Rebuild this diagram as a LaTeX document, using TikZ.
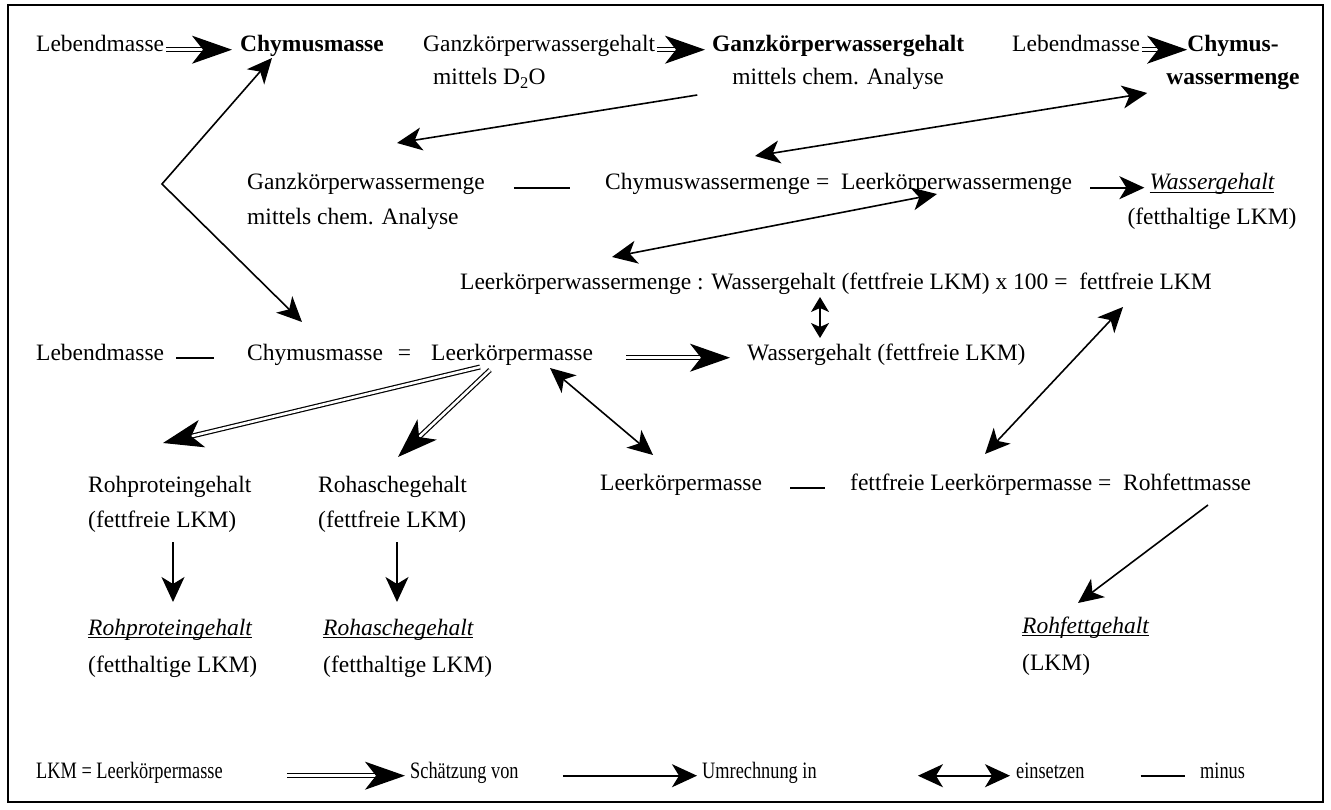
\documentclass[tikz,border=0pt]{standalone}
\usepackage{fontspec}
\setmainfont{Liberation Serif}
\newfontfamily\keyfont{Liberation Serif}[FakeStretch=0.78]
\usetikzlibrary{arrows.meta}

% underlined italic word, line drawn through the descenders
\newcommand{\ulit}[1]{\setbox0\hbox{\itshape #1}\rlap{\rule[-3pt]{\wd0}{1.4pt}}\box0}

\begin{document}
\begin{tikzpicture}[x=1pt,y=-1pt,
  txt/.style={anchor=base west,inner sep=0pt,font=\fontsize{23.5pt}{35pt}\selectfont},
  keytxt/.style={txt,font=\fontsize{23.5pt}{35pt}\keyfont},
  est/.style={double,double distance=2.6pt,line width=1.2pt,-{Stealth[length=40pt,width=28pt,inset=11pt]}},
  conv/.style={line width=1.6pt,-{Stealth[length=25pt,width=23pt,inset=7pt]}},
  subst/.style={line width=1.6pt,{Stealth[length=25pt,width=23pt,inset=7pt]}-{Stealth[length=25pt,width=23pt,inset=7pt]}},
  substsmall/.style={line width=1.6pt,{Stealth[length=15pt,width=18pt,inset=4pt]}-{Stealth[length=15pt,width=18pt,inset=4pt]}},
  minus/.style={line width=1.6pt}]
\useasboundingbox (0,0) rectangle (1331,810);
\draw[line width=1.8pt] (8,5) rectangle (1323,802);

% first row
\node[txt] (leb1) at (36,52) {Lebendmasse};
\node[txt] (chym1) at (240,52) {\textbf{Chymusmasse}};
\node[txt] (gkwg1) at (423,52) {Ganzkörperwassergehalt};
\node[txt] (d2o) at ([shift={(10,33)}]gkwg1.base west) {mittels D\textsubscript{2}O};
\node[txt] (gkwg2) at (712,52) {\textbf{Ganzkörperwassergehalt}};
\node[txt,anchor=base] (chem1) at ([shift={(0,33)}]gkwg2.base) {mittels chem. Analyse};
\node[txt] (leb2) at (1012,52) {Lebendmasse};
\node[txt,anchor=base] (chymw1) at (1233,52) {\textbf{Chymus-}};
\node[txt,anchor=base] (chymw2) at ([shift={(0,33)}]chymw1.base) {\textbf{wassermenge}};

% second row
\node[txt] (gkwm) at (247,190) {Ganzkörperwassermenge};
\node[txt] (chem2) at ([shift={(0,35)}]gkwm.base west) {mittels chem. Analyse};
\node[txt] (cwm) at (605,190) {Chymuswassermenge =\ \ Leerkörperwassermenge};
\node[txt,anchor=base] (wg1) at (1212,190) {\ulit{Wassergehalt}};
\node[txt,anchor=base] (fh1) at ([shift={(0,35)}]wg1.base) {(fetthaltige LKM)};

\node[txt] (lkwm) at (460,290) {Leerkörperwassermenge : Wassergehalt (fettfreie LKM) x 100 =\ \ fettfreie LKM};

\node[txt] (leb3) at (36,360) {Lebendmasse};
\node[txt] (lkm1) at (247,360) {Chymusmasse\hspace{15pt}=\hspace{20pt}Leerkörpermasse};
\node[txt] (wgff) at (747,360) {Wassergehalt (fettfreie LKM)};

\node[txt] (rpg1) at (88,492) {Rohproteingehalt};
\node[txt] (rpg1b) at ([shift={(0,35)}]rpg1.base west) {(fettfreie LKM)};
\node[txt] (rag1) at (318,492) {Rohaschegehalt};
\node[txt] (rag1b) at ([shift={(0,35)}]rag1.base west) {(fettfreie LKM)};
\node[txt] (lkm2) at (600,490) {Leerkörpermasse};
\node[txt] (fflkm) at (850,490) {fettfreie Leerkörpermasse =\ \ Rohfettmasse};

\node[txt] (rpg2) at (88,635) {\ulit{Rohproteingehalt}};
\node[txt] (rpg2b) at ([shift={(0,37)}]rpg2.base west) {(fetthaltige LKM)};
\node[txt] (rag2) at (323,635) {\ulit{Rohaschegehalt}};
\node[txt] (rag2b) at ([shift={(0,37)}]rag2.base west) {(fetthaltige LKM)};
\node[txt] (rfg) at (1022,633) {\ulit{Rohfettgehalt}};
\node[txt] (rfgb) at ([shift={(0,37)}]rfg.base west) {(LKM)};

% key
\node[keytxt] (key) at (36,778) {LKM = Leerkörpermasse};
\node[keytxt] (keyest) at (410,778) {Schätzung von};
\node[keytxt] (keyconv) at (702,778) {Umrechnung in};
\node[keytxt] (keysubst) at (1016,778) {einsetzen};
\node[keytxt] (keyminus) at (1200,778) {minus};

\coordinate (vbend) at (162,184);

% connectors
\draw[est,shorten <=2pt,shorten >=8pt] (leb1.mid east) -- (chym1.mid west);
\draw[est,shorten <=2pt,shorten >=7pt] (gkwg1.mid east) -- (gkwg2.mid west);
\draw[est,shorten <=2pt] (leb2.mid east) -- (chymw1.mid west);
\draw[subst] ([shift={(32,6)}]chym1.base west) -- (vbend) -- ([shift={(55,-38)}]lkm1.base west);
\draw[conv] ([shift={(-35,10)}]chem1.base west) -- ([shift={(150,-47)}]gkwm.base west);
\draw[subst] ([shift={(-19,8)}]chymw2.base west) -- ([shift={(150,-34)}]cwm.base west);
\draw[minus,shorten <=29pt,shorten >=35pt] (gkwm.mid east) -- (cwm.mid west);
\draw[conv,shorten <=18pt,shorten >=5pt] (cwm.mid east) -- (wg1.mid west);
\draw[subst] ([shift={(332,4)}]cwm.base west) -- ([shift={(152,-33)}]lkwm.base west);
\draw[substsmall] ([shift={(360,7)}]lkwm.base west) -- ([shift={(73,-22)}]wgff.base west);
\draw[subst] ([shift={(663,17)}]lkwm.base west) -- ([shift={(135,-36)}]fflkm.base west);
\draw[minus,shorten <=12pt,shorten >=33pt] (leb3.mid east) -- (lkm1.mid west);
\draw[est,shorten <=33pt,shorten >=17pt] (lkm1.mid east) -- (wgff.mid west);
\draw[est] ([shift={(233,7)}]lkm1.base west) -- ([shift={(75,-49)}]rpg1.base west);
\draw[est] ([shift={(243,10)}]lkm1.base west) -- ([shift={(80,-35)}]rag1.base west);
\draw[subst] ([shift={(303,8)}]lkm1.base west) -- ([shift={(53,-35)}]lkm2.base west);
\draw[minus,shorten <=28pt,shorten >=25pt] (lkm2.mid east) -- (fflkm.mid west);
\draw[conv] ([shift={(358,15)}]fflkm.base west) -- ([shift={(56,-30)}]rfg.base west);
\draw[conv] ([shift={(85,15)}]rpg1b.base west) -- ([shift={(85,-33)}]rpg2.base west);
\draw[conv] ([shift={(79,15)}]rag1b.base west) -- ([shift={(74,-33)}]rag2.base west);

\draw[est,shorten <=64pt,shorten >=5pt] (key.mid east) -- (keyest.mid west);
\draw[conv,shorten <=44pt,shorten >=5pt] (keyest.mid east) -- (keyconv.mid west);
\draw[subst,shorten <=101pt,shorten >=6pt] (keyconv.mid east) -- (keysubst.mid west);
\draw[minus,shorten <=56pt,shorten >=15pt] (keysubst.mid east) -- (keyminus.mid west);
\end{tikzpicture}
\end{document}
